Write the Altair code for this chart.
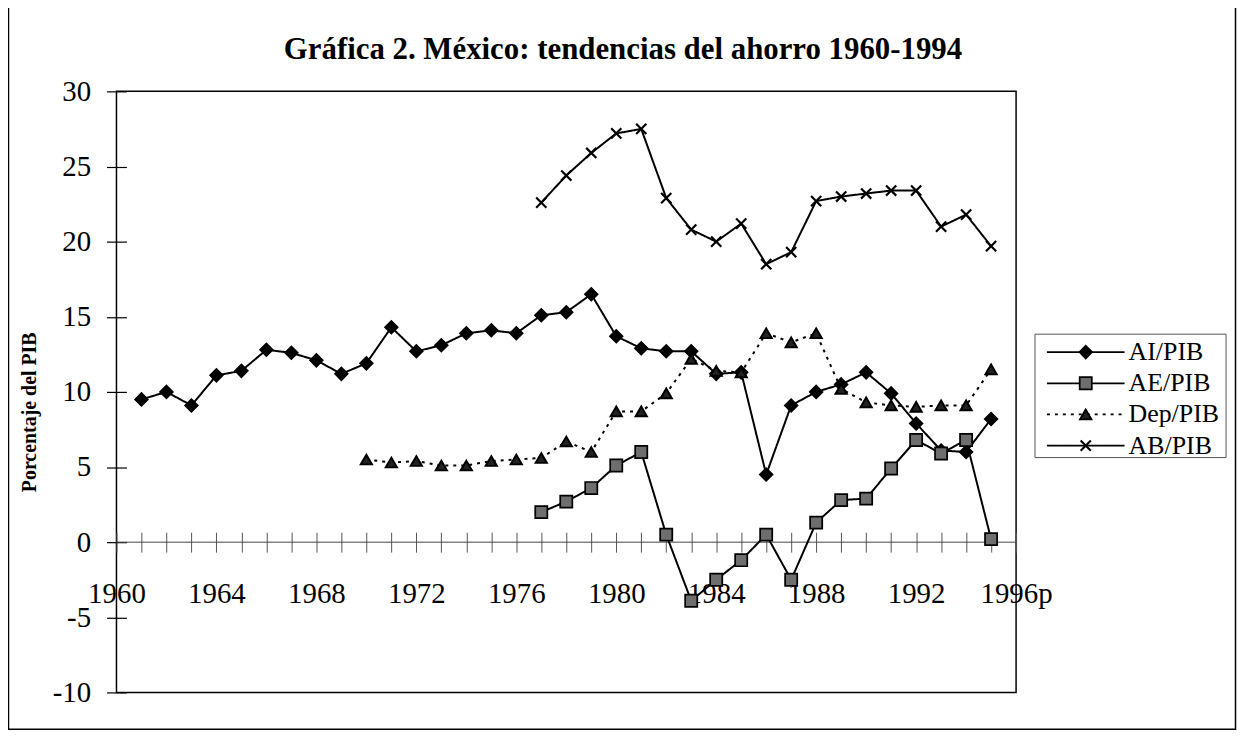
import altair as alt
import pandas as pd

# ---------------- data ----------------
series_names = ["AI/PIB", "AE/PIB", "Dep/PIB", "AB/PIB"]

ai_years = list(range(1961, 1996))
ai_vals = [9.5, 10.0, 9.1, 11.1, 11.4, 12.8, 12.6, 12.1, 11.2, 11.9,
           14.3, 12.7, 13.1, 13.9, 14.1, 13.9, 15.1, 15.3, 16.5, 13.7,
           12.9, 12.7, 12.7, 11.2, 11.3, 4.5, 9.1, 10.0, 10.5, 11.3,
           9.9, 7.9, 6.1, 6.0, 8.2]

ae_years = list(range(1977, 1996))
ae_vals = [2.0, 2.7, 3.6, 5.1, 6.0, 0.5, -3.9, -2.5, -1.2, 0.5,
           -2.5, 1.3, 2.8, 2.9, 4.9, 6.8, 5.9, 6.8, 0.2]

dep_years = list(range(1970, 1996))
dep_vals = [5.5, 5.3, 5.4, 5.1, 5.1, 5.4, 5.5, 5.6, 6.7, 6.0,
            8.7, 8.7, 9.9, 12.2, 11.4, 11.3, 13.9, 13.3, 13.9, 10.2,
            9.3, 9.1, 9.0, 9.1, 9.1, 11.5]

ab_years = list(range(1977, 1996))
ab_vals = [22.6, 24.4, 25.9, 27.2, 27.5, 22.9, 20.8, 20.0, 21.2, 18.5,
           19.3, 22.7, 23.0, 23.2, 23.4, 23.4, 21.0, 21.8, 19.7]

x_ticks = list(range(1960, 1997))
y_ticks = list(range(-10, 31, 5))
zero_line = [0]

title_text = ["Gráfica 2. México: tendencias del ahorro 1960-1994"]
y_title = "Porcentaje del PIB"

rows = []
for name, yrs, vals in zip(series_names,
                           [ai_years, ae_years, dep_years, ab_years],
                           [ai_vals, ae_vals, dep_vals, ab_vals]):
    for yr, v in zip(yrs, vals):
        rows.append({"year": yr, "value": v, "series": name})
df = pd.DataFrame(rows)
legend_df = pd.DataFrame({"series": series_names})

# ---------------- styling ----------------
FONT = "Liberation Serif"
W, H = 904, 604

x_scale = alt.Scale(domain=[1960, 1996], nice=False, zero=False)
y_scale = alt.Scale(domain=[-10, 30], nice=False, zero=False)
dash_scale = alt.Scale(domain=series_names, range=[[1, 0], [1, 0], [3, 5], [1, 0]])
shape_scale = alt.Scale(domain=series_names,
                        range=["diamond", "square", "triangle-up", "M-1,-1L1,1M-1,1L1,-1"])
fill_scale = alt.Scale(domain=series_names,
                       range=["black", "#6e6e6e", "#222222", "transparent"])
size_scale = alt.Scale(domain=series_names, range=[170, 105, 230, 160])
sw_scale = alt.Scale(domain=series_names, range=[1.5, 2.2, 1.5, 2.6])

x_axis = alt.Axis(
    values=x_ticks,
    labelExpr="datum.value % 4 == 0 ? (datum.value == 1996 ? '1996p' : '' + datum.value) : ''",
    domain=False, grid=False, ticks=True, tickSize=20, tickColor="#555555", tickWidth=1,
    offset=-161, labelPadding=28, labelFont=FONT, labelFontSize=29, labelColor="black",
    labelFlush=False, labelOverlap=False, labelBound=False, title=None,
)
y_axis = alt.Axis(
    values=y_ticks, labelExpr="'' + datum.value",
    domain=False, grid=False, tickSize=20, tickColor="black", tickWidth=1.2,
    offset=-10, labelPadding=16, labelFont=FONT, labelFontSize=29, labelColor="black",
    title=y_title, titleFont=FONT, titleFontSize=20, titleFontWeight="bold",
    titleColor="black", titleX=-97, titleY=322, titleAlign="center",
    titleBaseline="middle",
)

X = alt.X("year:Q", scale=x_scale, axis=x_axis)
Y = alt.Y("value:Q", scale=y_scale, axis=y_axis)

zero_rule = alt.Chart(pd.DataFrame({"v": zero_line})).mark_rule(
    color="#444444", strokeWidth=1
).encode(y=alt.Y("v:Q", scale=y_scale, axis=y_axis))

lines = alt.Chart(df).mark_line(color="black", strokeWidth=2).encode(
    x=X, y=Y,
    detail="series:N",
    strokeDash=alt.StrokeDash("series:N", scale=dash_scale, legend=None),
)

points = alt.Chart(df).mark_point(stroke="black", opacity=1, fillOpacity=1).encode(
    x=X, y=Y,
    shape=alt.Shape("series:N", scale=shape_scale, legend=None),
    fill=alt.Fill("series:N", scale=fill_scale, legend=None),
    size=alt.Size("series:N", scale=size_scale, legend=None),
    strokeWidth=alt.StrokeWidth("series:N", scale=sw_scale, legend=None),
)

main = alt.layer(zero_rule, lines, points)

# ---------------- legend (drawn as marks) ----------------
leg_y = alt.Y("series:N", axis=None,
              scale=alt.Scale(type="point", domain=series_names, range=[262, 356], padding=0))

box = alt.Chart(pd.DataFrame({"a": [0]})).mark_rect(
    fill="white", stroke="#555555", strokeWidth=1
).encode(x=alt.value(923), x2=alt.value(1115), y=alt.value(244), y2=alt.value(368))

leg_rules = alt.Chart(legend_df).mark_rule(color="black", strokeWidth=1.8).encode(
    x=alt.value(935), x2=alt.value(1013), y=leg_y,
    strokeDash=alt.StrokeDash("series:N", scale=dash_scale, legend=None),
)
leg_points = alt.Chart(legend_df).mark_point(stroke="black", opacity=1, fillOpacity=1).encode(
    x=alt.value(974), y=leg_y,
    shape=alt.Shape("series:N", scale=shape_scale, legend=None),
    fill=alt.Fill("series:N", scale=fill_scale, legend=None),
    size=alt.Size("series:N", scale=size_scale, legend=None),
    strokeWidth=alt.StrokeWidth("series:N", scale=sw_scale, legend=None),
)
leg_text = alt.Chart(legend_df).mark_text(
    align="left", baseline="middle", font=FONT, fontSize=26, color="black"
).encode(x=alt.value(1017), y=leg_y, text="series:N")

legend = alt.layer(box, leg_rules, leg_points, leg_text)

# chart title (as text) and outer chart frame
title = alt.Chart(pd.DataFrame({"t": title_text})).mark_text(
    font=FONT, fontSize=31, fontWeight="bold", color="black",
    align="center", baseline="middle"
).encode(x=alt.value(509), y=alt.value(-42), text="t:N")

frame = alt.Chart(pd.DataFrame({"a": [0]})).mark_rect(
    fillOpacity=0, stroke="black", strokeWidth=1.5
).encode(x=alt.value(-108.5), x2=alt.value(1124.5), y=alt.value(-120), y2=alt.value(641))

chart = alt.layer(main, legend, title, frame).resolve_scale(y="independent").properties(
    width=W, height=H,
    background="white",
    padding={"left": 109, "top": 82, "right": 222, "bottom": 39},
    autosize=alt.AutoSizeParams(type="none"),
).configure_view(stroke="black", strokeWidth=1.5)

chart.save("out.html", embed_options={"renderer": "svg", "actions": False})
